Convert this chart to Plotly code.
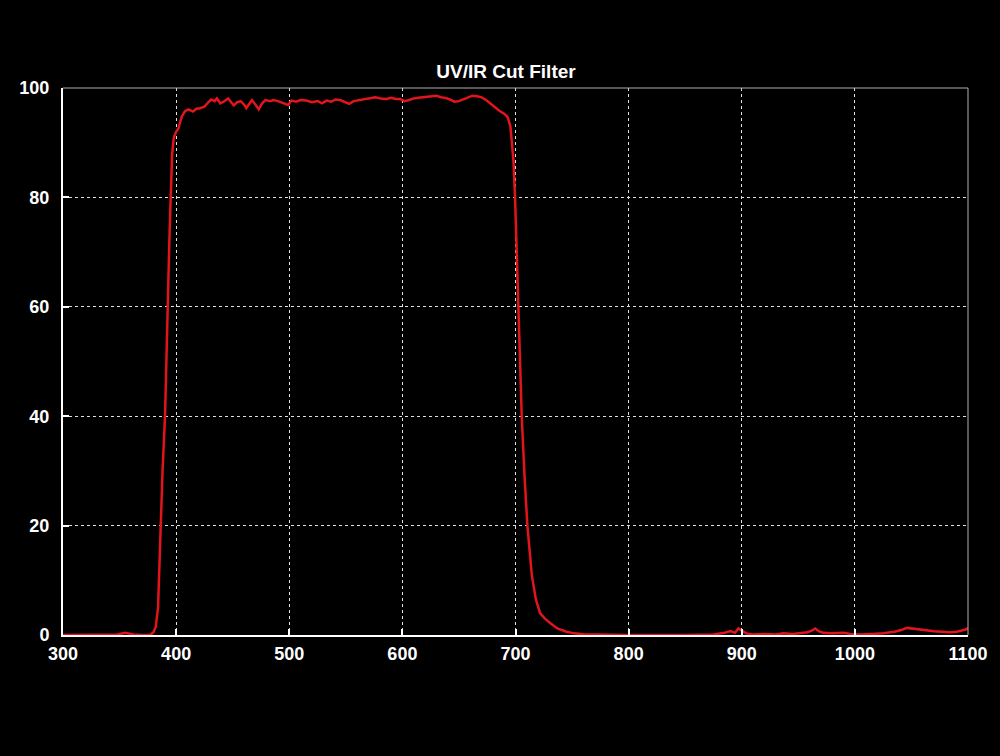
import plotly.graph_objects as go

# wavelength (nm) and transmission (%)
wavelength = [300, 340, 348, 355, 362, 370, 377, 380, 382, 384, 385, 386.4, 388, 390.2, 392.2,
              394, 395.2, 396.5, 398, 400, 402, 405, 408, 411, 415, 418, 421, 425, 428, 431,
              434, 436, 439, 442, 446, 448, 451, 454, 457, 460, 462, 465, 467, 470, 473, 476,
              479, 483, 486, 490, 493, 496, 499, 502, 506, 510, 515, 520, 525, 529, 533, 537,
              541, 545, 549, 553, 557, 562, 567, 572, 576, 581, 586, 590, 594, 598, 602, 606,
              610, 614, 618, 622, 626, 630, 634, 638, 642, 646, 650, 654, 658, 662, 666, 670,
              674, 678, 682, 686, 690, 693, 695.5, 697, 698.2, 699.6, 702.6, 705.5, 708, 710.5,
              714.4, 718, 721.7, 726, 730.6, 737, 745, 752, 760, 775, 800, 850, 875, 885, 890,
              894, 897, 900, 904, 910, 920, 930, 937, 945, 952, 958, 962, 965, 968, 972, 980,
              990, 996, 1005, 1015, 1025, 1035, 1041, 1046, 1050, 1055, 1058, 1064, 1070, 1077,
              1084, 1090, 1095, 1098, 1100]
transmission = [0, 0, 0.1, 0.4, 0.1, 0, 0, 0.5, 1.5, 5, 12, 20, 30, 40, 60,
                72, 80, 88, 91, 92, 92.6, 94.8, 95.8, 96.1, 95.7, 96.2, 96.3, 96.6, 97.3, 97.9,
                97.6, 98.1, 97.2, 97.5, 98.1, 97.5, 96.8, 97.4, 97.6, 97.0, 96.3, 97.2, 97.8, 97.0, 96.1, 97.2,
                97.8, 97.6, 97.8, 97.6, 97.4, 97.1, 96.9, 97.7, 97.5, 97.8, 97.7, 97.4, 97.6, 97.2, 97.7, 97.5,
                97.9, 97.8, 97.4, 97.1, 97.6, 97.8, 98.0, 98.2, 98.3, 98.1, 98.0, 98.2, 98.0, 98.0, 97.6, 97.8,
                98.1, 98.2, 98.3, 98.3, 98.4, 98.6, 98.3, 98.2, 97.9, 97.5, 97.6, 97.9, 98.3, 98.6, 98.5, 98.3,
                97.8, 97.1, 96.4, 95.8, 95.3, 94.7, 93, 90, 86.7, 80, 60, 40, 29, 20,
                11, 6.5, 4, 3, 2.2, 1.2, 0.6, 0.3, 0.15, 0.05, 0, 0, 0.1, 0.4, 0.7,
                0.4, 1.2, 0.8, 0.3, 0.1, 0.2, 0.1, 0.3, 0.2, 0.4, 0.5, 0.8, 1.2, 0.7, 0.4, 0.3,
                0.4, 0.2, 0.1, 0.2, 0.3, 0.6, 0.9, 1.3, 1.2, 1.1, 0.9, 0.8, 0.7, 0.6,
                0.5, 0.6, 0.8, 1.0, 1.3]

x_ticks = [300, 400, 500, 600, 700, 800, 900, 1000, 1100]
y_ticks = [0, 20, 40, 60, 80, 100]

font_family = "Liberation Sans, Arial, sans-serif"

fig = go.Figure(go.Scatter(x=wavelength, y=transmission, mode="lines",
                           line=dict(color="#e3141b", width=2.5), hoverinfo="x+y"))

# thin grey frame on top and right, the thick white axes are left/bottom
fig.add_shape(type="line", xref="paper", yref="paper", x0=0, x1=1, y0=1, y1=1,
              line=dict(color="#b0b0b0", width=1))
fig.add_shape(type="line", xref="paper", yref="paper", x0=1, x1=1, y0=0, y1=1,
              line=dict(color="#b0b0b0", width=1))

fig.update_layout(
    width=1000, height=756,
    margin=dict(l=63, r=32, t=88, b=121),
    paper_bgcolor="black", plot_bgcolor="black",
    showlegend=False,
    title=dict(text="UV/IR Cut Filter", x=0.506, xref="container", y=0.905,
               yref="container", xanchor="center", yanchor="middle",
               font=dict(family=font_family, size=19, color="white", weight="bold")),
)
fig.update_xaxes(range=[300, 1100], tickvals=x_ticks, ticks="inside", ticklen=6,
                 tickwidth=2, tickcolor="white", showline=True, linecolor="white",
                 linewidth=2, showgrid=True, gridcolor="#e0e0e0", griddash="dot",
                 gridwidth=1, zeroline=False, ticklabelstandoff=1,
                 tickfont=dict(family=font_family, size=18, color="white", weight="bold"))
fig.update_yaxes(range=[0, 100], tickvals=y_ticks, ticks="inside", ticklen=6,
                 tickwidth=2, tickcolor="white", showline=True, linecolor="white",
                 linewidth=2, showgrid=True, gridcolor="#e0e0e0", griddash="dot",
                 gridwidth=1, zeroline=False, ticklabelstandoff=8,
                 tickfont=dict(family=font_family, size=18, color="white", weight="bold"))

# page body has a default 8px white margin, make it black and flush
fig.write_html("out.html", config={"displayModeBar": False},
               post_script="document.body.style.margin='0';document.body.style.background='black';")
